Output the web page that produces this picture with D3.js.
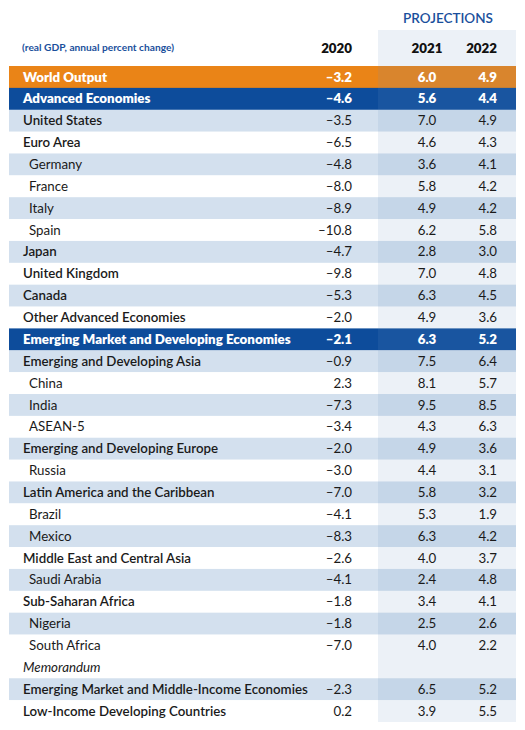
<!DOCTYPE html><html><head><meta charset="utf-8"><script src="https://d3js.org/d3.v7.min.js"></script>
<style>body{margin:0;background:#fff}</style></head><body><svg id="c" width="525" height="730"></svg>
<script>
const labels=["World Output","Advanced Economies","United States","Euro Area","Germany","France","Italy","Spain","Japan","United Kingdom","Canada","Other Advanced Economies","Emerging Market and Developing Economies","Emerging and Developing Asia","China","India","ASEAN-5","Emerging and Developing Europe","Russia","Latin America and the Caribbean","Brazil","Mexico","Middle East and Central Asia","Saudi Arabia","Sub-Saharan Africa","Nigeria","South Africa","Memorandum","Emerging Market and Middle-Income Economies","Low-Income Developing Countries"];
const levels=[0,0,0,0,1,1,1,1,0,0,0,0,0,0,1,1,1,0,1,0,1,1,0,1,0,1,1,2,0,0];
const rowStyle=["orange","blue","s","w","s","w","s","w","s","w","s","w","blue","s","w","s","w","s","w","s","w","s","w","s","w","s","w","w","s","w"];
const v2020=[-3.2,-4.6,-3.5,-6.5,-4.8,-8.0,-8.9,-10.8,-4.7,-9.8,-5.3,-2.0,-2.1,-0.9,2.3,-7.3,-3.4,-2.0,-3.0,-7.0,-4.1,-8.3,-2.6,-4.1,-1.8,-1.8,-7.0,null,-2.3,0.2];
const v2021=[6.0,5.6,7.0,4.6,3.6,5.8,4.9,6.2,2.8,7.0,6.3,4.9,6.3,7.5,8.1,9.5,4.3,4.9,4.4,5.8,5.3,6.3,4.0,2.4,3.4,2.5,4.0,null,6.5,3.9];
const v2022=[4.9,4.4,4.9,4.3,4.1,4.2,4.2,5.8,3.0,4.8,4.5,3.6,5.2,6.4,5.7,8.5,6.3,3.6,3.1,3.2,1.9,4.2,3.7,4.8,4.1,2.6,2.2,null,5.2,5.5];
const years=["2020","2021","2022"];
const svg=d3.select("#c");
const y=d3.scaleBand().domain(d3.range(labels.length)).range([66,722]).padding(0);
const fills={orange:"#ea8417",blue:"#0d4c9b",s:"#d3e0ee",w:"#ffffff"};
const F="Lato, 'Open Sans', sans-serif";
const FS=13.3;
svg.selectAll("rect.r").data(labels).join("rect").attr("x",9).attr("width",507)
 .attr("y",(d,i)=>y(i)).attr("height",y.bandwidth()+0.3).attr("fill",(d,i)=>fills[rowStyle[i]]);
svg.append("rect").attr("x",378).attr("y",30).attr("width",138).attr("height",692).attr("fill","#6f8fbf").attr("opacity",0.13);
svg.append("text").attr("x",448).attr("y",23).attr("text-anchor","middle").attr("font-family",F).attr("font-size",13.5).attr("font-weight",600).attr("fill","#1a4f9c").text("PROJECTIONS");
svg.append("text").attr("x",22).attr("y",51).attr("font-family",F).attr("font-size",10.2).attr("font-weight",700).attr("fill","#1a4f9c").text("(real GDP, annual percent change)");
const colX=[352,427,497],anch=["end","middle","end"];
years.forEach((yr,j)=>svg.append("text").attr("x",colX[j]).attr("y",53).attr("text-anchor",anch[j]).attr("font-family",F).attr("font-size",13.3).attr("font-weight",800).attr("fill","#111").text(yr));
const dark=i=>rowStyle[i]==="orange"||rowStyle[i]==="blue";
const g=svg.selectAll("g.row").data(labels).join("g").attr("transform",(d,i)=>`translate(0,${y(i)+y.bandwidth()/2+4.6})`);
g.append("text").attr("x",(d,i)=>levels[i]===1?29:23).attr("font-family",F).attr("font-size",FS)
 .attr("font-weight",(d,i)=>dark(i)?800:(levels[i]===0?600:400)).attr("font-style",(d,i)=>levels[i]===2?"italic":"normal")
 .attr("fill",(d,i)=>dark(i)?"#fff":"#1a1a1a").text(d=>d);
[v2020,v2021,v2022].forEach((arr,j)=>{
 g.append("text").attr("x",colX[j]).attr("text-anchor",anch[j]).attr("font-family",F).attr("font-size",FS)
  .attr("font-weight",(d,i)=>dark(i)?800:400).attr("fill",(d,i)=>dark(i)?"#fff":"#1a1a1a")
  .text((d,i)=>arr[i]==null?"":(arr[i]<0?"\u2013"+Math.abs(arr[i]).toFixed(1):arr[i].toFixed(1)));
});
</script></body></html>
